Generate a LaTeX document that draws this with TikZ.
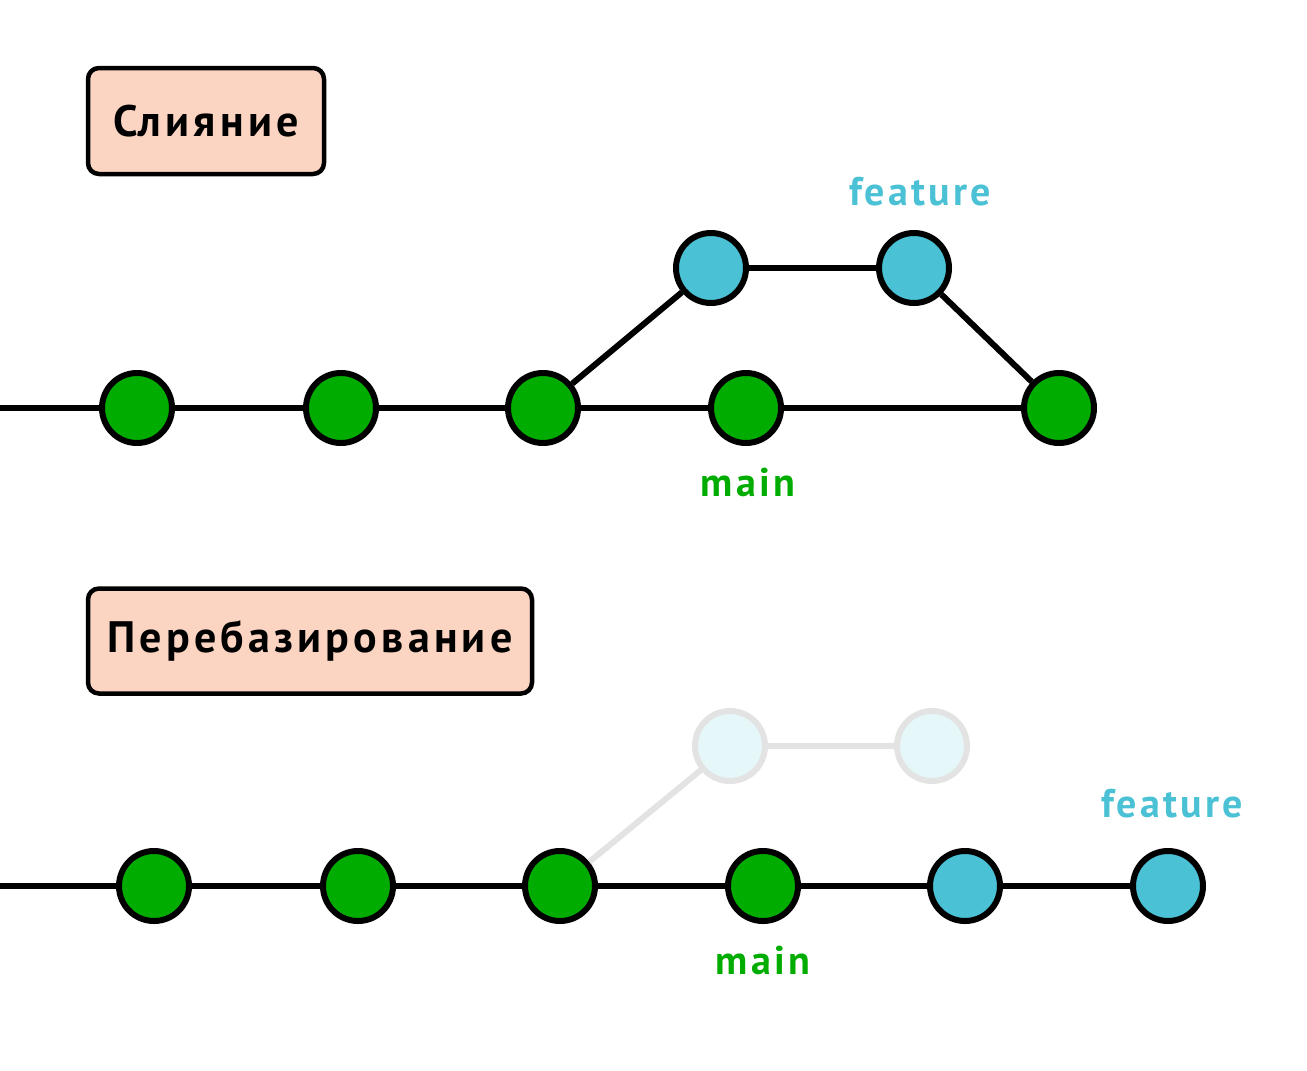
\documentclass[tikz,border=0pt]{standalone}
\usepackage{fontspec}
\setmainfont{PT Sans}
\newfontfamily\titlefont[LetterSpace=9.5]{PT Sans}
\newfontfamily\labelfont[LetterSpace=8]{PT Sans}
\definecolor{cgreen}{HTML}{00AC00}
\definecolor{cblue}{HTML}{4AC1D4}
\definecolor{cghostfill}{HTML}{E6F7FA}
\definecolor{cghostline}{HTML}{E3E3E3}
\definecolor{cbox}{HTML}{FCD4C2}
\begin{document}
\begin{tikzpicture}[x=1pt,y=-1pt,
  commit/.style={circle,draw=black,line width=6pt,minimum size=70pt,inner sep=0pt},
  gc/.style={commit,fill=cgreen},
  bc/.style={commit,fill=cblue},
  ghost/.style={circle,draw=cghostline,fill=cghostfill,line width=6pt,minimum size=70pt,inner sep=0pt},
  edge/.style={line width=6pt,black},
  gedge/.style={line width=6pt,cghostline},
  titlebox/.style={draw=black,fill=cbox,line width=4.5pt,rounded corners=11pt,font=\titlefont\fontsize{44}{50}\selectfont\bfseries,anchor=center,inner sep=0pt},
  lbl/.style={font=\labelfont\fontsize{40}{46}\selectfont\bfseries}
]
\useasboundingbox (0,0) rectangle (1307,1071);
% top section
\node[titlebox,minimum width=236pt,minimum height=106pt] (t1) at (206,121) {Слияние};
\coordinate (s1) at (0,408);
\node[gc] (a1) at (137,408) {};
\node[gc] (a2) at (341,408) {};
\node[gc] (a3) at (543,408) {};
\node[gc] (a4) at (746,408) {};
\node[gc] (a5) at (1059,408) {};
\node[bc] (f1) at (711,268) {};
\node[bc] (f2) at (914,268) {};
\draw[edge] (s1) -- (a1);
\draw[edge] (a1) -- (a2);
\draw[edge] (a2) -- (a3);
\draw[edge] (a3) -- (a4);
\draw[edge] (a4) -- (a5);
\draw[edge] (a3) -- (f1);
\draw[edge] (f1) -- (f2);
\draw[edge] (f2) -- (a5);
\node[lbl,text=cblue] (lf1) at (920,192) {feature};
\node[lbl,text=cgreen] (lm1) at (748,482) {main};
% bottom section
\node[titlebox,minimum width=444pt,minimum height=105pt] (t2) at (310,641) {Перебазирование};
\coordinate (s2) at (0,886);
\node[ghost] (g1) at (730,746) {};
\node[ghost] (g2) at (932,746) {};
\node[gc] (b1) at (154,886) {};
\node[gc] (b2) at (358,886) {};
\node[gc] (b3) at (560,886) {};
\node[gc] (b4) at (763,886) {};
\node[bc] (b5) at (965,886) {};
\node[bc] (b6) at (1168,886) {};
\draw[gedge] (b3) -- (g1);
\draw[gedge] (g1) -- (g2);
\draw[edge] (s2) -- (b1);
\draw[edge] (b1) -- (b2);
\draw[edge] (b2) -- (b3);
\draw[edge] (b3) -- (b4);
\draw[edge] (b4) -- (b5);
\draw[edge] (b5) -- (b6);
\node[lbl,text=cblue] (lf2) at (1172,804) {feature};
\node[lbl,text=cgreen] (lm2) at (763,960) {main};
\end{tikzpicture}
\end{document}
